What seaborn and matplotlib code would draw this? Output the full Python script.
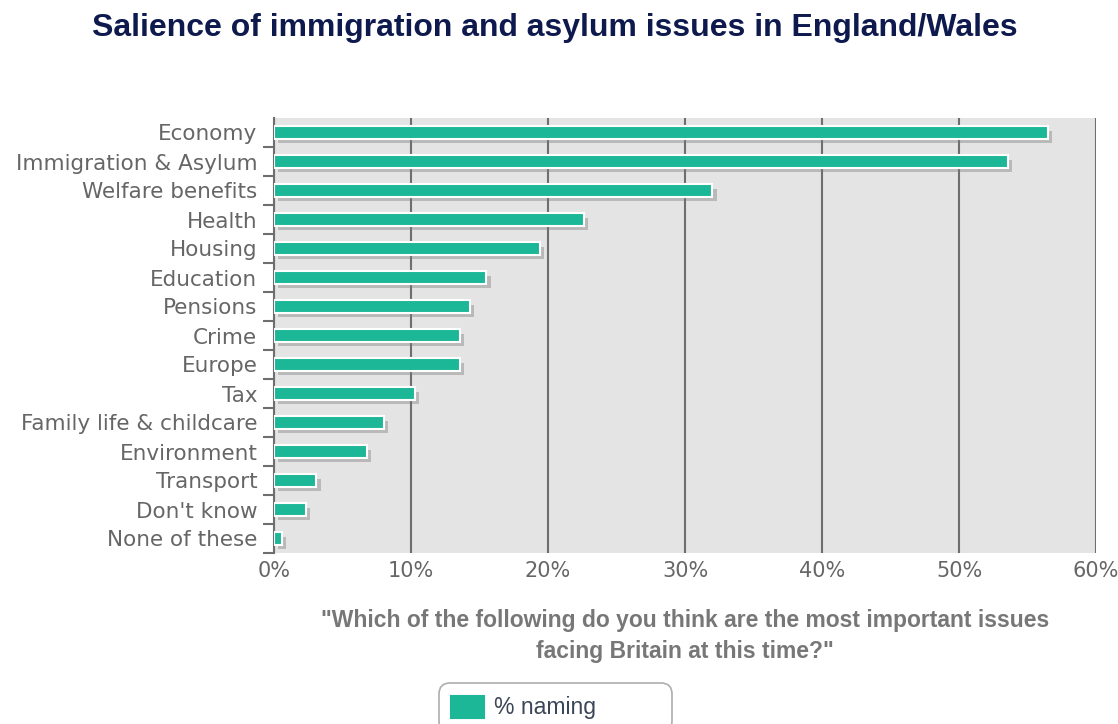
import matplotlib
matplotlib.use("Agg")
import matplotlib.pyplot as plt
import matplotlib.patheffects as pe
from matplotlib.ticker import FixedLocator, FuncFormatter
import seaborn as sns
import pandas as pd

categories = ["Economy", "Immigration & Asylum", "Welfare benefits", "Health", "Housing",
              "Education", "Pensions", "Crime", "Europe", "Tax",
              "Family life & childcare", "Environment", "Transport", "Don't know", "None of these"]
values = [56.5, 53.6, 32.0, 22.6, 19.4, 15.5, 14.3, 13.6, 13.6, 10.3, 8.0, 6.8, 3.1, 2.3, 0.6]
x_ticks = [0, 10, 20, 30, 40, 50, 60]
series_name = "% naming"

df = pd.DataFrame({"issue": categories, "pct": values, "series": series_name})

sns.set_theme(style="white")
plt.rcParams["font.family"] = ["DejaVu Sans"]

fig = plt.figure(figsize=(11.18, 7.24), dpi=100)
ax = fig.add_axes([274/1118, 1 - 553/724, (1096-274)/1118, (553-118)/724])

sns.barplot(data=df, y="issue", x="pct", hue="series", palette=["#1cb797"], saturation=1,
            width=0.42, ax=ax, edgecolor="white", linewidth=1.5, zorder=3)

for p in ax.patches:
    p.set_path_effects([pe.SimplePatchShadow(offset=(3, -3), shadow_rgbFace="#7a7a7a", alpha=0.4),
                        pe.Normal()])

ax.set_facecolor("#e4e4e4")
ax.set_xlim(0, 60)
ax.set_ylim(len(categories) - 0.5, -0.5)
ax.xaxis.set_major_locator(FixedLocator(x_ticks))
ax.xaxis.set_major_formatter(FuncFormatter(lambda v, _: f"{v:.0f}%"))
ax.grid(axis="x", color="#6e6e6e", linewidth=1.5, zorder=1)
ax.set_axisbelow(True)
for s in ["top", "right", "bottom"]:
    ax.spines[s].set_visible(False)
ax.spines["left"].set_color("#6e6e6e")
ax.spines["left"].set_linewidth(1.5)

ax.set_yticks(range(len(categories)))
ax.set_yticklabels(categories)
ax.yaxis.set_minor_locator(FixedLocator([i + 0.5 for i in range(len(categories))]))
ax.tick_params(axis="y", which="major", length=0, pad=12, labelsize=15.5, labelcolor="#666666")
ax.tick_params(axis="y", which="minor", left=True, length=8, width=1.5, color="#6e6e6e")
ax.tick_params(axis="x", length=0, pad=6, labelsize=15, labelcolor="#666666")
ax.set_ylabel("")
ax.set_xlabel('"Which of the following do you think are the most important issues\nfacing Britain at this time?"',
              fontsize=16.5, fontweight="bold", color="#777777", family="Liberation Sans",
              labelpad=20, linespacing=1.45)

fig.text(555/1118, 1 - 28/724, "Salience of immigration and asylum issues in England/Wales",
         ha="center", va="center", fontsize=23, fontweight="bold", color="#0e1a4d",
         family="Liberation Sans")

ax.legend_.remove()
handles, labels = ax.get_legend_handles_labels()
leg = fig.legend(handles, [l + "          " for l in labels], loc="upper center",
                 bbox_to_anchor=(555.5/1118, 1 - 683/724),
                 frameon=True, fancybox=True, prop={"family": "Liberation Sans", "size": 16.5},
                 handlelength=1.4, handleheight=1.1, borderpad=0.55, handletextpad=0.45,
                 borderaxespad=0)
for t in leg.get_texts():
    t.set_color("#3b4656")
for h in leg.legend_handles:
    h.set_path_effects([])
    h.set_edgecolor("#1cb797")
leg.get_frame().set_edgecolor("#999999")
leg.get_frame().set_linewidth(1.2)
leg.get_frame().set_boxstyle("round,pad=0,rounding_size=0.5")

fig.savefig("out.png", dpi=100)
